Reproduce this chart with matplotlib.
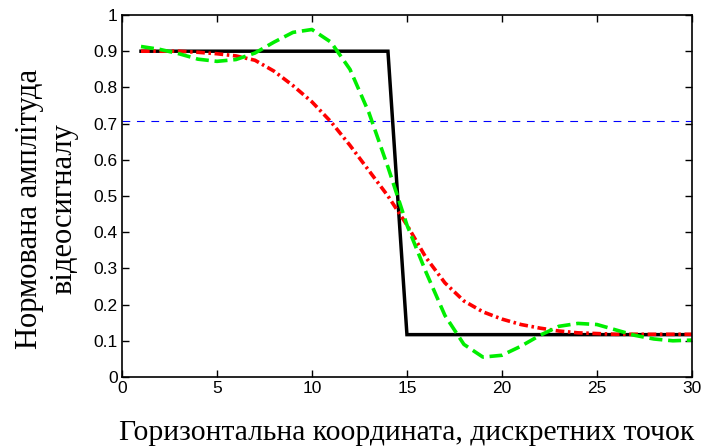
import numpy as np
import matplotlib
matplotlib.use('Agg')
import matplotlib.pyplot as plt

# sample positions (discrete points)
x = np.arange(1, 31)

# ideal edge
ideal = [0.9] * 14 + [0.117] * 16

# smoothed edge (dash-dot, red)
smooth = [0.900, 0.900, 0.900, 0.897, 0.893, 0.887, 0.875, 0.845, 0.805, 0.760,
          0.705, 0.640, 0.570, 0.500, 0.420, 0.330, 0.260, 0.210, 0.180, 0.160,
          0.145, 0.135, 0.127, 0.122, 0.120, 0.118, 0.118, 0.118, 0.118, 0.118]

# edge with overshoot (dashed, green)
ringing = [0.913, 0.905, 0.893, 0.878, 0.872, 0.877, 0.895, 0.925, 0.952, 0.960,
           0.925, 0.850, 0.730, 0.580, 0.420, 0.290, 0.170, 0.090, 0.055, 0.060,
           0.085, 0.115, 0.140, 0.148, 0.145, 0.130, 0.115, 0.105, 0.100, 0.102]

level = 0.707

xticks = [0, 5, 10, 15, 20, 25, 30]
yticks = [0, 0.1, 0.2, 0.3, 0.4, 0.5, 0.6, 0.7, 0.8, 0.9, 1]
ytick_labels = ['0', '0.1', '0.2', '0.3', '0.4', '0.5', '0.6', '0.7', '0.8', '0.9', '1']

fig = plt.figure(figsize=(7.06, 4.48), dpi=100)
ax = fig.add_axes([0.1728, 0.1585, 0.8072, 0.808])

ax.axhline(level, color='#0000ff', linewidth=0.8, dashes=(7, 6))
ax.plot(x, ideal, color='black', linewidth=2.5, solid_joinstyle='miter')
ax.plot(x, smooth, color='#ff0000', linewidth=2.6, dashes=(2.4, 1.0, 0.7, 1.0))
ax.plot(x, ringing, color='#00ee00', linewidth=2.6, dashes=(3.6, 1.6))

ax.set_xlim(0, 30)
ax.set_ylim(0, 1)
ax.set_xticks(xticks)
ax.set_yticks(yticks)
ax.set_yticklabels(ytick_labels)

for lab in ax.get_xticklabels() + ax.get_yticklabels():
    lab.set_fontfamily('Liberation Sans')
    lab.set_fontsize(12.5)

ax.tick_params(direction='in', length=5, width=1, top=True, right=True, pad=3)
for sp in ax.spines.values():
    sp.set_linewidth(1.2)

ax.set_xlabel('Горизонтальна координата, дискретних точок',
              family='Liberation Serif', size=21.3, labelpad=17)
ax.set_ylabel('Нормована амплітуда\nвідеосигналу',
              family='Liberation Serif', size=22, linespacing=1.25)
ax.yaxis.set_label_coords(-0.077, 0.465)

fig.savefig('out.png', dpi=100)
